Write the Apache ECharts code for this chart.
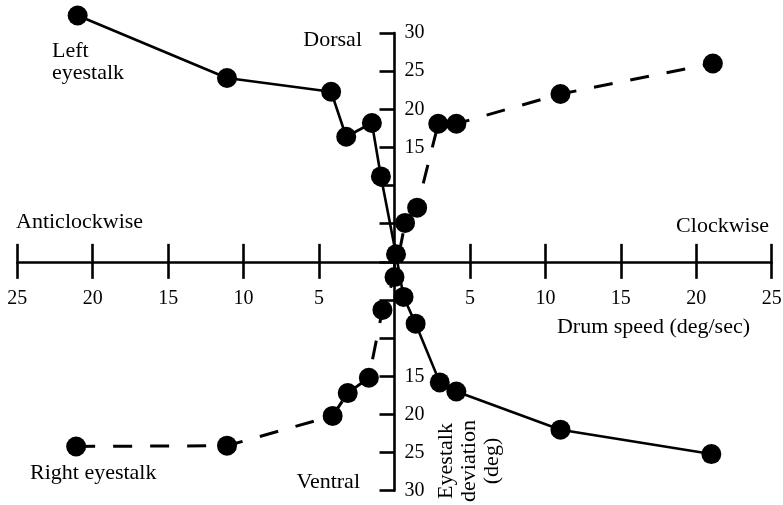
<!DOCTYPE html>
<html>
<head>
<meta charset="utf-8">
<script src="https://cdn.jsdelivr.net/npm/echarts@6/dist/echarts.min.js"></script>
<style>
  html, body { margin: 0; padding: 0; background: #fff; }
  #chart { width: 783px; height: 505px; }
</style>
</head>
<body>
<div id="chart"></div>
<script>
// Drum speed (deg/sec): negative = anticlockwise, positive = clockwise
const leftSpeed = [-21.0, -11.1, -4.2, -3.2, -1.5, -0.9, 0.1, 0.6, 1.4, 3.0, 4.1, 11.0, 21.0];
// Eyestalk deviation (deg): positive = dorsal, negative = ventral
const leftDeviation = [32.3, 24.1, 22.3, 16.4, 18.2, 11.2, 1.0, -4.6, -8.1, -15.8, -17.0, -22.0, -25.2];

const rightSpeed = [-21.1, -11.1, -4.1, -3.1, -1.7, -0.8, 0.0, 0.7, 1.5, 2.9, 4.1, 11.0, 21.1];
const rightDeviation = [-24.2, -24.1, -20.2, -17.2, -15.2, -6.3, -2.0, 5.1, 7.1, 18.1, 18.1, 22.0, 26.0];

// Tick values that carry a label
const speedTickLabels = [5, 10, 15, 20, 25];
const deviationTickLabels = [15, 20, 25, 30];

const FONT = '"Liberation Serif", "DejaVu Serif", serif';
const INK = '#000';

// Plot area and the two crossing axes (pixels)
const GRID = { left: 17.3, right: 11.3, top: 33, bottom: 14.3 };
const W = 783, H = 505;
const SPEED_MIN = -25, SPEED_MAX = 25, DEV_MIN = -30, DEV_MAX = 30;
const plotW = W - GRID.left - GRID.right;
const plotH = H - GRID.top - GRID.bottom;
// offsets that bring each axis to the other's zero
const xAxisOffset = -plotH * (0 - DEV_MIN) / (DEV_MAX - DEV_MIN);
const yAxisOffset = -plotW * (0 - SPEED_MIN) / (SPEED_MAX - SPEED_MIN);

const pairs = (xs, ys) => xs.map((x, i) => [x, ys[i]]);

const chart = echarts.init(document.getElementById('chart'), null, { renderer: 'canvas' });

const speedAxisBase = {
  type: 'value',
  min: SPEED_MIN,
  max: SPEED_MAX,
  interval: 5,
  position: 'bottom',
  offset: xAxisOffset,
  splitLine: { show: false }
};

const textStyle = { fontFamily: FONT, fontSize: 22, fill: INK };

chart.setOption({
  backgroundColor: '#fff',
  animation: false,
  grid: Object.assign({ containLabel: false, outerBoundsMode: 'none' }, GRID),
  xAxis: [
    Object.assign({}, speedAxisBase, {
      axisLine: { show: true, onZero: false, lineStyle: { color: INK, width: 2.6 } },
      axisTick: { show: true, inside: false, length: 17, lineStyle: { color: INK, width: 2.6 } },
      axisLabel: {
        show: true,
        margin: 27,
        fontFamily: FONT,
        fontSize: 20,
        color: INK,
        formatter: v => speedTickLabels.includes(Math.abs(v)) ? String(Math.abs(v)) : ''
      }
    }),
    Object.assign({}, speedAxisBase, {
      axisLine: { show: false, onZero: false },
      axisTick: { show: true, inside: true, length: 18, lineStyle: { color: INK, width: 2.6 } },
      axisLabel: { show: false }
    })
  ],
  yAxis: {
    type: 'value',
    min: DEV_MIN,
    max: DEV_MAX,
    interval: 5,
    position: 'left',
    offset: yAxisOffset,
    splitLine: { show: false },
    axisLine: { show: true, onZero: false, lineStyle: { color: INK, width: 2.6 } },
    axisTick: { show: true, inside: false, length: 15, lineStyle: { color: INK, width: 2.6 } },
    axisLabel: {
      show: true,
      inside: true,
      margin: 10,
      fontFamily: FONT,
      fontSize: 20,
      color: INK,
      formatter: v => deviationTickLabels.includes(Math.abs(v)) ? String(Math.abs(v)) : ''
    }
  },
  series: [
    {
      name: 'Left eyestalk',
      type: 'line',
      data: pairs(leftSpeed, leftDeviation),
      symbol: 'circle',
      symbolSize: 20,
      clip: false,
      itemStyle: { color: INK },
      lineStyle: { color: INK, width: 2.6, type: 'solid' }
    },
    {
      name: 'Right eyestalk',
      type: 'line',
      data: pairs(rightSpeed, rightDeviation),
      symbol: 'circle',
      symbolSize: 20,
      clip: false,
      itemStyle: { color: INK },
      lineStyle: { color: INK, width: 3, type: [19, 18] }
    }
  ],
  graphic: [
    { type: 'text', left: 52, top: 40, style: Object.assign({ text: 'Left\neyestalk', lineHeight: 22 }, textStyle) },
    { type: 'text', x: 362, y: 40, style: Object.assign({ text: 'Dorsal', align: 'right', verticalAlign: 'middle' }, textStyle) },
    { type: 'text', x: 16, y: 222, style: Object.assign({ text: 'Anticlockwise', align: 'left', verticalAlign: 'middle' }, textStyle) },
    { type: 'text', x: 769, y: 226, style: Object.assign({ text: 'Clockwise', align: 'right', verticalAlign: 'middle' }, textStyle) },
    { type: 'text', x: 750, y: 327, style: Object.assign({ text: 'Drum speed (deg/sec)', align: 'right', verticalAlign: 'middle' }, textStyle) },
    { type: 'text', x: 30, y: 473, style: Object.assign({ text: 'Right eyestalk', align: 'left', verticalAlign: 'middle' }, textStyle) },
    { type: 'text', x: 360, y: 482, style: Object.assign({ text: 'Ventral', align: 'right', verticalAlign: 'middle' }, textStyle) },
    {
      type: 'text', x: 469, y: 461, rotation: Math.PI / 2,
      style: Object.assign({ text: 'Eyestalk\ndeviation\n(deg)', align: 'center', verticalAlign: 'middle', lineHeight: 23 }, textStyle)
    }
  ]
});
</script>
</body>
</html>
